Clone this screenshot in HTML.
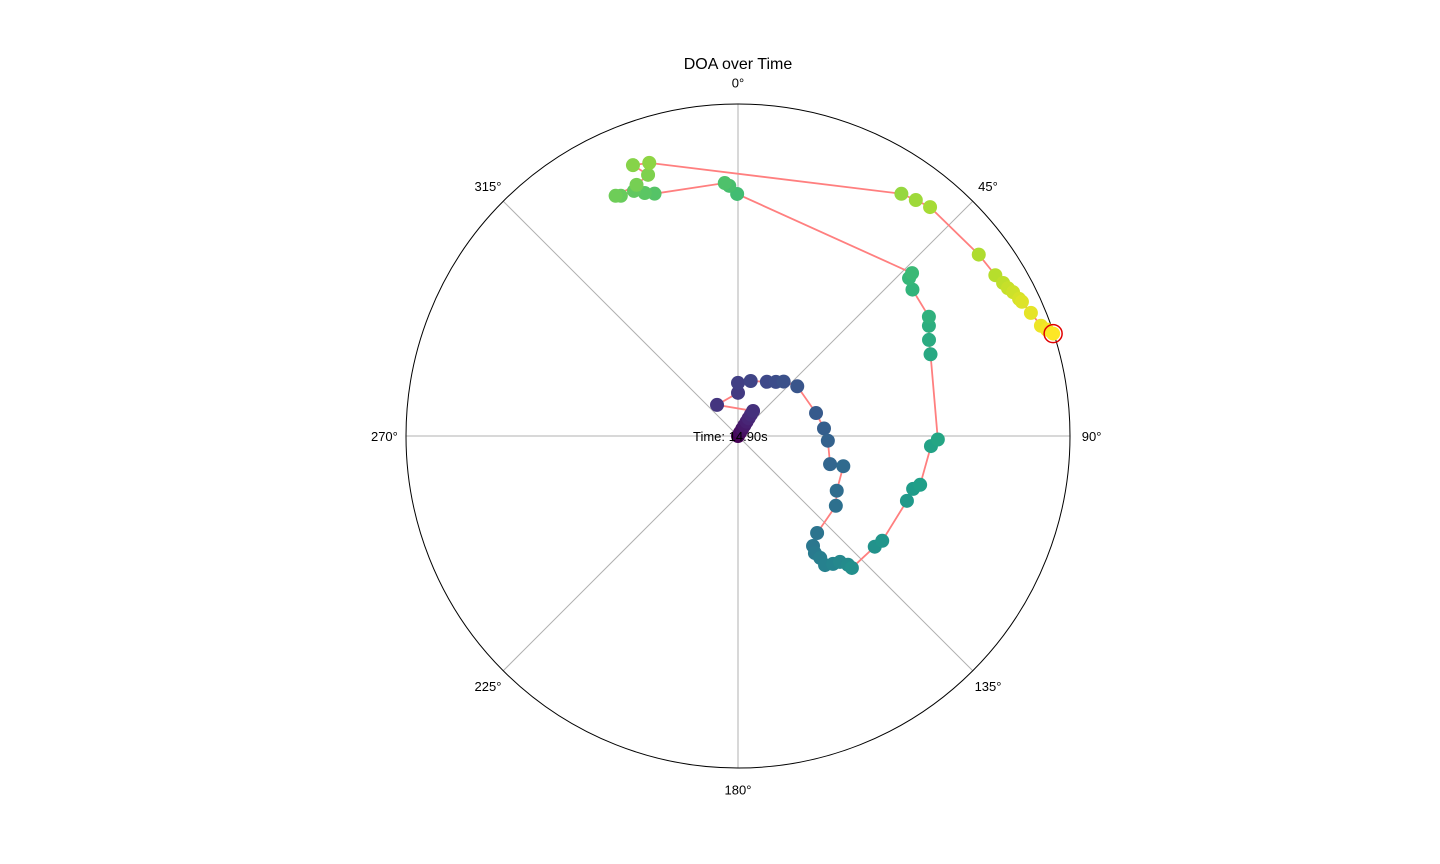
<!DOCTYPE html>
<html><head><meta charset="utf-8"><style>
body{margin:0;background:#fff;}
svg{display:block;font-family:"Liberation Sans","DejaVu Sans",sans-serif;}
</style></head><body>
<svg id="chart" width="1440" height="864">
<text x="738" y="69" text-anchor="middle" font-size="16">DOA over Time</text>
<g id="grid"></g><g id="trail"></g><g id="pts"></g>
</svg>
<script>
const thetaDeg=[0,31,31,31,31,31,31,31,326,0,0,13,28,35,40,50,73.6,85,93,107,106,119,125.5,140.8,145.7,146.7,146,146,143.4,141,139.5,139.2,129,126,111,106.8,105,93,91,67,63.3,60,58,50,47.3,46.9,359.8,358,357,341,339,337,334,333,338,341,338.8,342,34,37,40,53,58,60,61.3,62.4,64,64.7,67.2,70,71,72];
const radius=[0,0.012,0.025,0.037,0.05,0.062,0.075,0.088,0.113,0.13,0.16,0.17,0.185,0.199,0.214,0.233,0.245,0.26,0.271,0.29,0.33,0.34,0.362,0.377,0.401,0.422,0.443,0.469,0.48,0.488,0.51,0.525,0.53,0.537,0.545,0.551,0.568,0.582,0.602,0.63,0.644,0.664,0.678,0.686,0.701,0.718,0.729,0.754,0.763,0.772,0.784,0.802,0.805,0.812,0.816,0.832,0.875,0.865,0.88,0.89,0.9,0.908,0.914,0.922,0.927,0.935,0.942,0.946,0.957,0.971,0.984,0.998];
const angleTicks=[0,45,90,135,180,225,270,315];
const timeLabel="Time: 14.90s";
const NS="http://www.w3.org/2000/svg",cx=738,cy=436,R=332;
function px(t,r){const a=t*Math.PI/180;return [cx+Math.sin(a)*r*R,cy-Math.cos(a)*r*R];}
function mk(tag,at,p){const e=document.createElementNS(NS,tag);for(const k in at)e.setAttribute(k,at[k]);p.appendChild(e);return e;}
const vir=[[68,1,84],[72,40,120],[62,73,137],[49,104,142],[38,130,142],[31,158,137],[53,183,121],[109,205,89],[180,222,44],[253,231,37]];
function viridis(f){const s=f*(vir.length-1),i=Math.min(Math.floor(s),vir.length-2),u=s-i;const c=vir[i].map((v,k)=>Math.round(v+(vir[i+1][k]-v)*u));return `rgb(${c})`;}
const g=document.getElementById('grid');
angleTicks.forEach(t=>{const [x,y]=px(t,1);
const l=mk('line',{x1:cx,y1:cy,x2:x,y2:y,stroke:'#b0b0b0','stroke-width':1},g);


const [lx,ly]=px(t,1.065);
const tx=mk('text',{x:lx,y:ly+5,'text-anchor':'middle','font-size':13},g);tx.textContent=t+'°';

});
const c=mk('circle',{cx:cx,cy:cy,r:R,fill:'none',stroke:'#000','stroke-width':1},g);


const pts=thetaDeg.map((t,i)=>px(t,radius[i]));
const pl=mk('polyline',{points:pts.map(p=>p.join(',')).join(' '),fill:'none',stroke:'#ff7f7f','stroke-width':1.8},document.getElementById('trail'));


const pg=document.getElementById('pts');
pts.forEach((p,i)=>{const d=mk('circle',{cx:p[0],cy:p[1],r:7,fill:viridis(Math.pow(i/(pts.length-1),0.85))},pg);

});
const last=pts[pts.length-1];
const cur=mk('circle',{cx:last[0],cy:last[1],r:9,fill:'none',stroke:'#e00000','stroke-width':1.5},pg);


const tl=mk('text',{x:693,y:441,'font-size':13},pg);tl.textContent=timeLabel;


</script>
</body></html>
